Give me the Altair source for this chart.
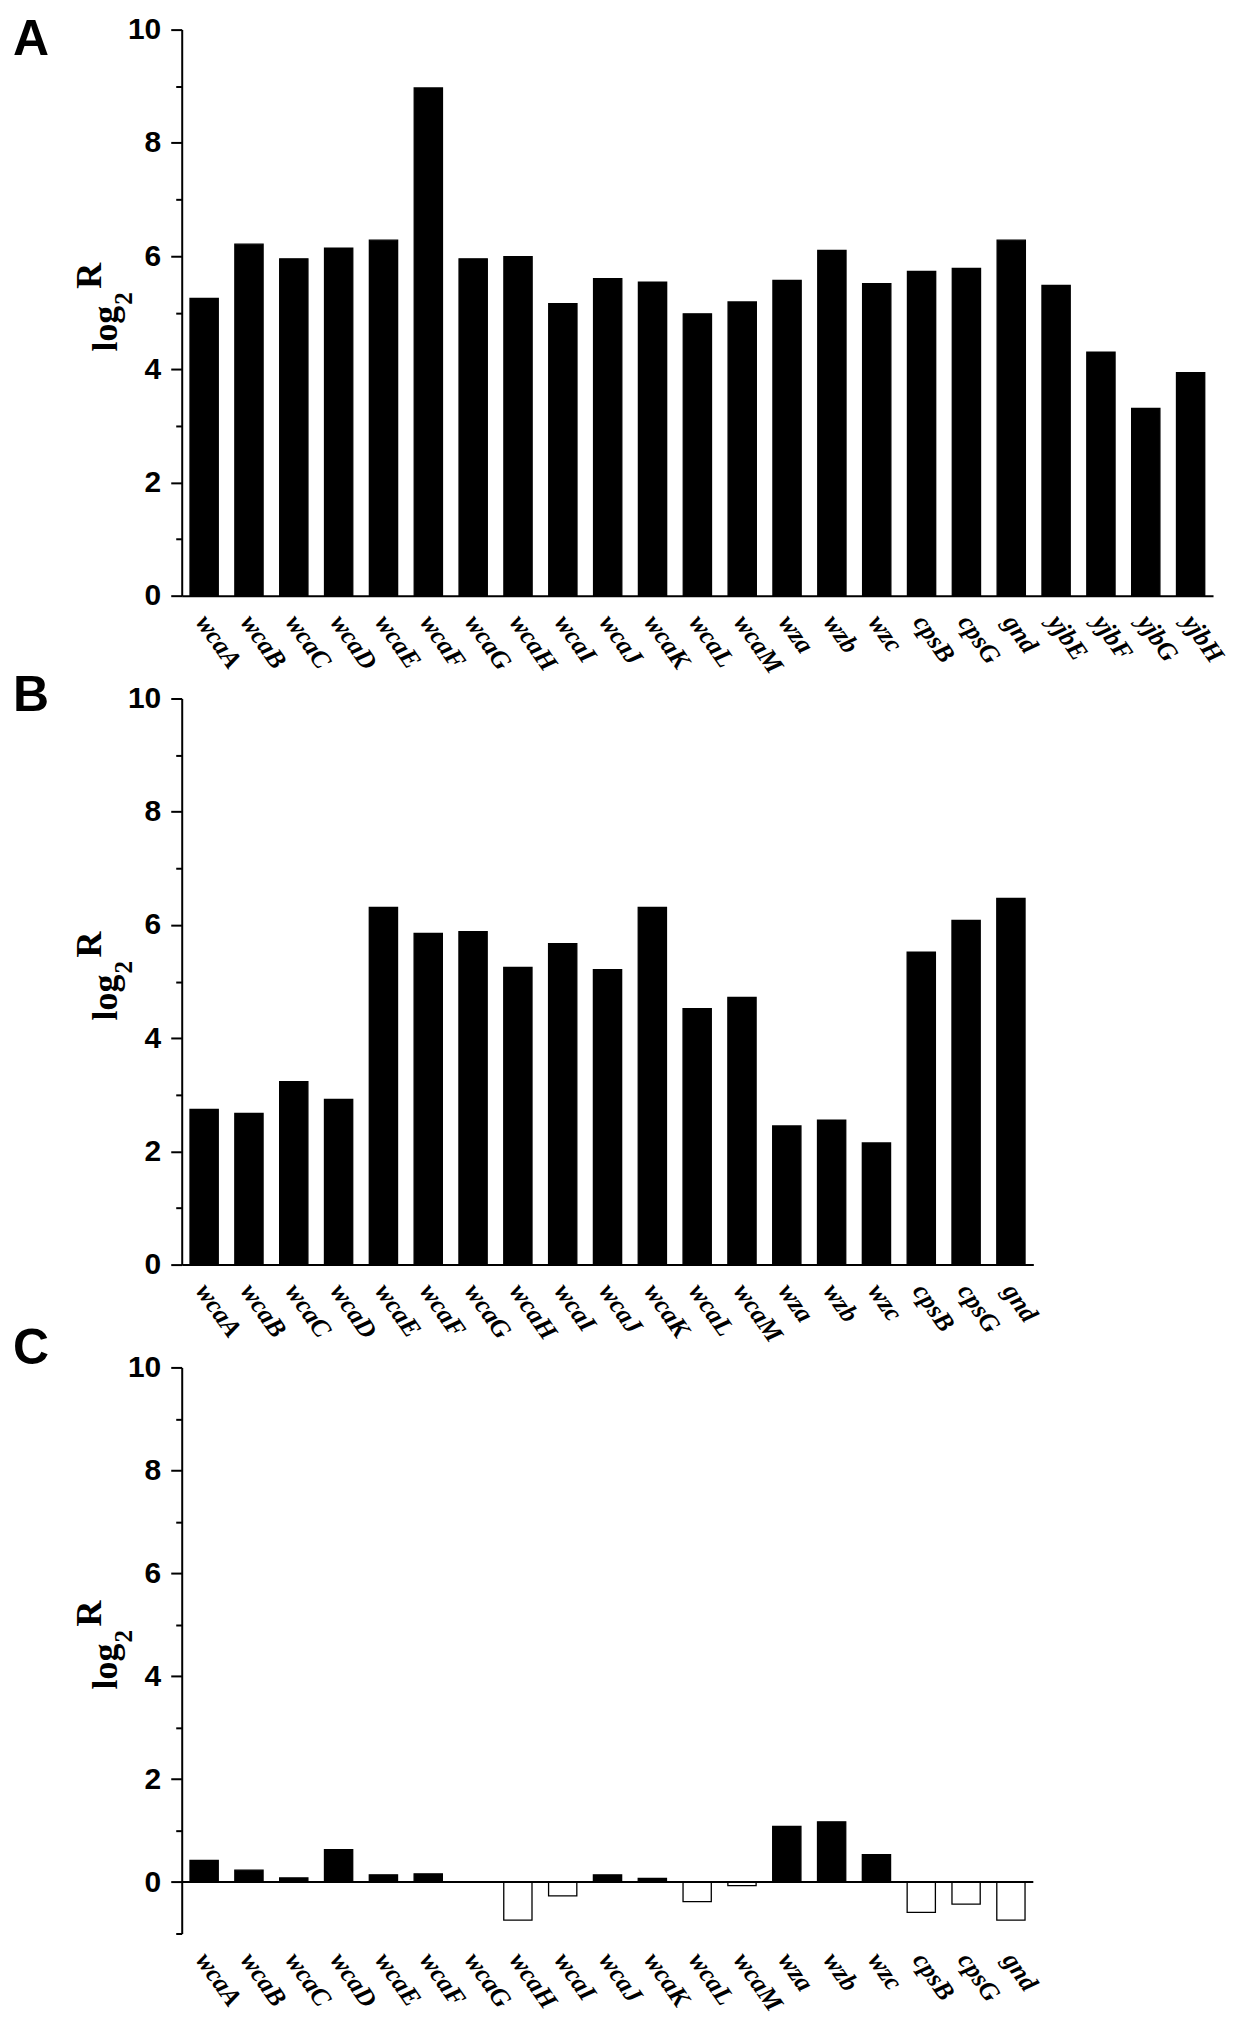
import altair as alt
import pandas as pd

genes_a = ["wcaA", "wcaB", "wcaC", "wcaD", "wcaE", "wcaF", "wcaG", "wcaH", "wcaI",
           "wcaJ", "wcaK", "wcaL", "wcaM", "wza", "wzb", "wzc", "cpsB", "cpsG",
           "gnd", "yjbE", "yjbF", "yjbG", "yjbH"]
vals_a = [5.25, 6.21, 5.95, 6.14, 6.28, 8.97, 5.95, 5.99, 5.16, 5.60, 5.54, 4.98,
          5.19, 5.57, 6.10, 5.51, 5.73, 5.78, 6.28, 5.48, 4.30, 3.31, 3.94]

genes_bc = ["wcaA", "wcaB", "wcaC", "wcaD", "wcaE", "wcaF", "wcaG", "wcaH", "wcaI",
            "wcaJ", "wcaK", "wcaL", "wcaM", "wza", "wzb", "wzc", "cpsB", "cpsG", "gnd"]
vals_b = [2.74, 2.67, 3.23, 2.92, 6.31, 5.85, 5.88, 5.25, 5.67, 5.21, 6.31, 4.52,
          4.72, 2.45, 2.55, 2.15, 5.52, 6.08, 6.47]
vals_c = [0.42, 0.23, 0.08, 0.63, 0.14, 0.16, 0.0, -0.74, -0.27, 0.14, 0.07, -0.38,
          -0.07, 1.08, 1.17, 0.53, -0.59, -0.43, -0.74]

panel_letters = ["A", "B", "C"]
title_parts = ["log", "2", "R"]

STEP = 44.9
H = 567
SERIF = "Liberation Serif"
SANS = "Liberation Sans"


def txt(s, x, y, size, font, angle=0):
    return alt.Chart(pd.DataFrame({"t": [s]})).mark_text(
        align="left", baseline="alphabetic", angle=angle, font=font,
        fontSize=size, fontWeight="bold", color="black"
    ).encode(x=alt.value(x), y=alt.value(y), text="t:N")


def panel(genes, vals, letter, letter_y, ymin, zero_rule):
    df = pd.DataFrame({"gene": genes, "v": vals})
    W = round(len(genes) * STEP)
    x = alt.X(
        "gene:N", sort=None,
        scale=alt.Scale(paddingInner=0.37, paddingOuter=0.185),
        axis=alt.Axis(
            title=None, labelAngle=55, labelAlign="left", labelBaseline="top",
            labelFont=SERIF, labelFontStyle="italic", labelFontWeight="bold",
            labelFontSize=26, labelPadding=14, labelOffset=8, labelColor="black",
            ticks=False, domain=not zero_rule, domainColor="black", domainWidth=2,
        ),
    )
    y = alt.Y(
        "v:Q",
        scale=alt.Scale(domain=[ymin, 10], nice=False),
        axis=alt.Axis(
            title=None, values=list(range(ymin, 11)),
            labelExpr="datum.value % 2 === 0 ? datum.label : ''",
            labelFont=SANS, labelFontWeight="bold", labelFontSize=30,
            labelColor="black", labelPadding=10,
            tickColor="black", tickWidth=2,
            tickSize={"condition": {"test": "datum.value % 2 === 0", "value": 11}, "value": 6},
            domainColor="black", domainWidth=2, grid=False,
        ),
    )
    bars = alt.Chart(df).mark_bar(stroke="black", strokeWidth=1.3).encode(
        x=x, y=y,
        fill=alt.condition("datum.v < 0", alt.value("white"), alt.value("black")),
    )
    c = H / 2
    layers = [bars]
    if zero_rule:
        layers.append(
            alt.Chart(pd.DataFrame({"z": [0]})).mark_rule(color="black", strokeWidth=2)
            .encode(y="z:Q")
        )
    layers += [
        txt(letter, -169, letter_y, 50, SANS),
        txt(title_parts[0], -65, c + 39, 36, SERIF, angle=270),
        txt(title_parts[1], -50, c - 8, 25, SERIF, angle=270),
        txt(title_parts[2], -81, c - 24, 36, SERIF, angle=270),
    ]
    return alt.layer(*layers).properties(width=W, height=H)


pa = panel(genes_a, vals_a, panel_letters[0], 25, 0, False)
pb = panel(genes_bc, vals_b, panel_letters[1], 12.7, 0, False)
pc = panel(genes_bc, vals_c, panel_letters[2], -3, -1, True)

chart = alt.vconcat(pa, pb, pc, spacing=103, bounds="flush").configure_view(
    stroke=None
).properties(
    padding={"left": 5, "top": 5, "right": 5, "bottom": 0}
)

chart.save("out.html", embed_options={"renderer": "svg", "actions": False})
